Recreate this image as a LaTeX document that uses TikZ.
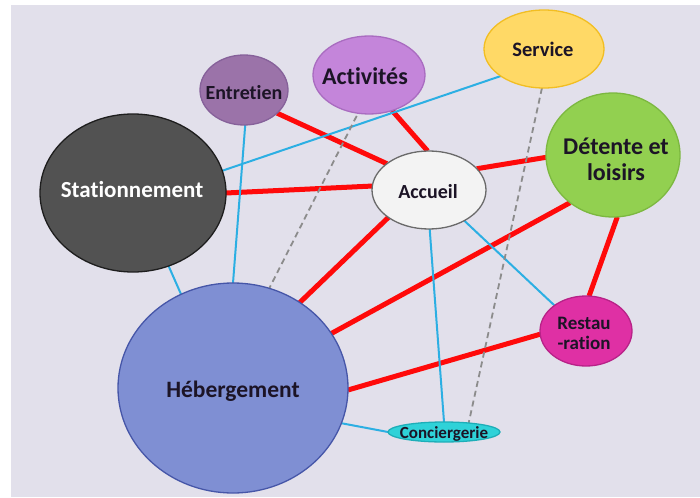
\documentclass[tikz,border=0pt]{standalone}
\usepackage{fontspec}
\setmainfont[Ligatures=NoCommon]{Carlito}
\usetikzlibrary{shapes.geometric}
\definecolor{bgc}{HTML}{E2E0EB}
\definecolor{servf}{HTML}{FFD966}\definecolor{servd}{HTML}{F2BE22}
\definecolor{actf}{HTML}{C485DA}\definecolor{actd}{HTML}{A96CC0}
\definecolor{entf}{HTML}{9B73A9}\definecolor{entd}{HTML}{86619A}
\definecolor{statf}{HTML}{525252}\definecolor{statd}{HTML}{1E1E1E}
\definecolor{accf}{HTML}{F3F3F3}\definecolor{accd}{HTML}{6A6A6A}
\definecolor{detf}{HTML}{92D050}\definecolor{detd}{HTML}{7CB840}
\definecolor{restf}{HTML}{DF30A4}\definecolor{restd}{HTML}{B82288}
\definecolor{hebf}{HTML}{7F8FD3}\definecolor{hebd}{HTML}{4656A8}
\definecolor{concf}{HTML}{2FD2D8}\definecolor{concd}{HTML}{1EAEB8}
\definecolor{redc}{HTML}{FF0A0A}
\definecolor{bluec}{HTML}{2CAFE3}
\definecolor{grayc}{HTML}{8C8C8C}
\definecolor{txtc}{HTML}{1C1426}
\pgfdeclarelayer{bg}\pgfdeclarelayer{edges}
\pgfsetlayers{bg,edges,main}
\tikzset{
  bub/.style={ellipse, line width=1.3pt, inner sep=0pt, outer sep=0pt},
  lbl/.style={text=txtc, align=center, inner sep=0pt, anchor=base},
  redl/.style={draw=redc, line width=5pt},
  bluel/.style={draw=bluec, line width=2pt},
  grayl/.style={draw=grayc, line width=1.8pt, dash pattern=on 6pt off 4pt}
}
\begin{document}
\begin{tikzpicture}[x=1pt,y=-1pt]
\useasboundingbox (0,0) rectangle (700,497);
\begin{pgfonlayer}{bg}
\fill[white] (0,0) rectangle (700,497);
\fill[bgc] (11,5) rectangle (700,497);
\end{pgfonlayer}
% bubbles
\node[bub, fill=servf, draw=servd, minimum width=120pt, minimum height=78pt] (serv) at (544,49) {};
\node[bub, fill=actf, draw=actd, minimum width=112pt, minimum height=78pt] (act) at (369,75) {};
\node[bub, fill=entf, draw=entd, minimum width=88pt, minimum height=70pt] (ent) at (244,90) {};
\node[bub, fill=statf, draw=statd, minimum width=186pt, minimum height=158pt] (stat) at (133,193) {};
\node[bub, fill=accf, draw=accd, minimum width=114pt, minimum height=78pt] (acc) at (429,190) {};
\node[bub, fill=detf, draw=detd, minimum width=134pt, minimum height=124pt] (det) at (613,155) {};
\node[bub, fill=restf, draw=restd, minimum width=92pt, minimum height=70pt] (rest) at (586,331) {};
\node[bub, fill=hebf, draw=hebd, minimum width=230pt, minimum height=210pt] (heb) at (233,388) {};
\node[bub, fill=concf, draw=concd, minimum width=112pt, minimum height=20pt] (conc) at (444,432) {};
% texts
\node[lbl, font=\bfseries\fontsize{20.5}{22}\selectfont] (tserv) at (543,57) {Service};
\node[lbl, font=\bfseries\fontsize{24}{26}\selectfont] (tact) at (365,85) {Activités};
\node[lbl, font=\bfseries\fontsize{20}{22}\selectfont] (tent) at (244,100) {Entretien};
\node[lbl, text=white, font=\bfseries\fontsize{23}{25}\selectfont] (tstat) at (132,197) {Stationnement};
\node[lbl, font=\bfseries\fontsize{20}{22}\selectfont] (tacc) at (428,198) {Accueil};
\node[lbl, font=\bfseries\fontsize{24}{26}\selectfont] (tdet) at (616,180) {Détente et\\loisirs};
\node[lbl, font=\bfseries\fontsize{19}{19.5}\selectfont] (trest) at (584,349) {Restau\\-ration};
\node[lbl, font=\bfseries\fontsize{23.5}{25}\selectfont] (theb) at (233,397) {Hébergement};
\node[lbl, font=\bfseries\fontsize{17}{19}\selectfont] (tconc) at (444,438) {Conciergerie};
% connectors
\begin{pgfonlayer}{edges}
\draw[redl] (ent.-35) -- (acc.148);
\draw[redl] (act.-57) -- (acc.92);
\draw[redl] (stat.0) -- (acc.176);
\draw[redl] (acc.24) -- (det.182);
\draw[redl] (acc.214) -- (heb.52);
\draw[redl] (det.228) -- (heb.29);
\draw[redl] (det.274) -- (rest.85);
\draw[redl] (rest.184) -- (heb.-1);
\draw[bluel] (serv.212) -- (stat.14);
\draw[bluel] (ent.272) -- (heb.90);
\draw[bluel] (stat.296) -- (heb.119);
\draw[bluel] (acc.271) -- (conc.90);
\draw[bluel] (acc.319) -- (rest.141);
\draw[bluel] (heb.-18) -- (conc.180);
\draw[grayl, shorten <=3pt] (act.254) -- (heb.70);
\draw[grayl] (serv.267) -- (conc.20);
\end{pgfonlayer}
\end{tikzpicture}
\end{document}
